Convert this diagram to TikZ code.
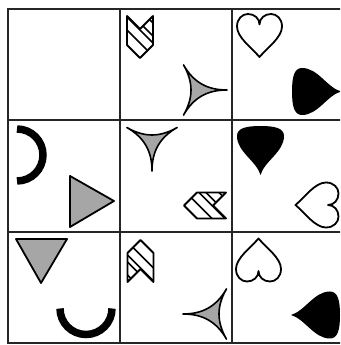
\documentclass[tikz,border=0pt]{standalone}
\newcommand{\chevronmark}[1]{%
 \begin{scope}[#1]
   \begin{scope}
     \clip (-13,21) -- (0,8) -- (13,21) -- (13,-8) -- (0,-21) -- (-13,-8) -- cycle;
     \foreach \c in {27,14,7,-6} \draw[line width=1.5pt] (-30,\c+30) -- (30,\c-30);
   \end{scope}
   \draw[outl] (-13,21) -- (0,8) -- (13,21) -- (13,-8) -- (0,-21) -- (-13,-8) -- cycle;
 \end{scope}}
\newcommand{\starmark}[1]{%
 \begin{scope}[#1]
  \draw[outl, grayfill, line width=1.6pt] (0:29pt) .. controls (0:9pt) and (120:9pt) .. (120:29pt) .. controls (120:9pt) and (240:9pt) .. (240:29pt) .. controls (240:9pt) and (0:9pt) .. (0:29pt) -- cycle;
 \end{scope}}
\newcommand{\heartmark}[1]{%
 \begin{scope}[#1]
  \draw[outl] (0,-21.5) .. controls (-8,-12) and (-22.5,-2) .. (-22.5,9) .. controls (-22.5,17) and (-17,21.5) .. (-11.5,21.5) .. controls (-5,21.5) and (0,17) .. (0,11) .. controls (0,17) and (5,21.5) .. (11.5,21.5) .. controls (17,21.5) and (22.5,17) .. (22.5,9) .. controls (22.5,-2) and (8,-12) .. (0,-21.5) -- cycle;
 \end{scope}}
\newcommand{\dropmark}[1]{%
 \begin{scope}[#1]
  \fill[black] (0,-40) .. controls (-4,-26) and (-23.5,-17) .. (-23.5,-1) .. controls (-23.5,7) and (-14,9) .. (0,9) .. controls (14,9) and (23.5,7) .. (23.5,-1) .. controls (23.5,-17) and (4,-26) .. (0,-40) -- cycle;
 \end{scope}}
\begin{document}
\begin{tikzpicture}[x=1pt,y=1pt,
  gridline/.style={line width=1.8pt, draw=black!85},
  outl/.style={line width=1.8pt, draw=black, line join=round},
  grayfill/.style={fill=black!35},
  arcline/.style={line width=7.5pt, draw=black, line cap=butt},
  ]
\useasboundingbox (0,0) rectangle (340,345);
\clip (0,0) rectangle (340,345);
\fill[white] (0,0) rectangle (340,345);
% grid
\draw[gridline] (8,2) rectangle (344,336);
\draw[gridline] (120,2) -- (120,336);
\draw[gridline] (232,2) -- (232,336);
\draw[gridline] (8,225) -- (344,225);
\draw[gridline] (8,113) -- (344,113);
% row 1
\chevronmark{shift={(140,308)}}
\starmark{shift={(198,255)}}
\heartmark{shift={(259.5,309.5)}}
\dropmark{shift={(301,253.5)},rotate=90}
% row 2
\draw[arcline] (17,216) arc[start angle=90,end angle=-90,radius=26pt];
\draw[outl,grayfill] (70,169) -- (114,144) -- (70,118) -- cycle;
\starmark{shift={(152,203)},rotate=-90}
\chevronmark{shift={(205,139.5)},cm={0,1,1,0,(0,0)}}
\dropmark{shift={(260.5,210)}}
\heartmark{shift={(317,140)},rotate=-90}
% row 3
\draw[outl,grayfill] (16,106) -- (67,106) -- (41,62) -- cycle;
\draw[arcline] (60,36.5) arc[start angle=180,end angle=360,radius=26pt];
\chevronmark{shift={(140.5,84)},rotate=180}
\starmark{shift={(212,31)},rotate=180}
\heartmark{shift={(258.5,85)},rotate=180}
\dropmark{shift={(331,30)},rotate=-90}
\end{tikzpicture}
\end{document}
